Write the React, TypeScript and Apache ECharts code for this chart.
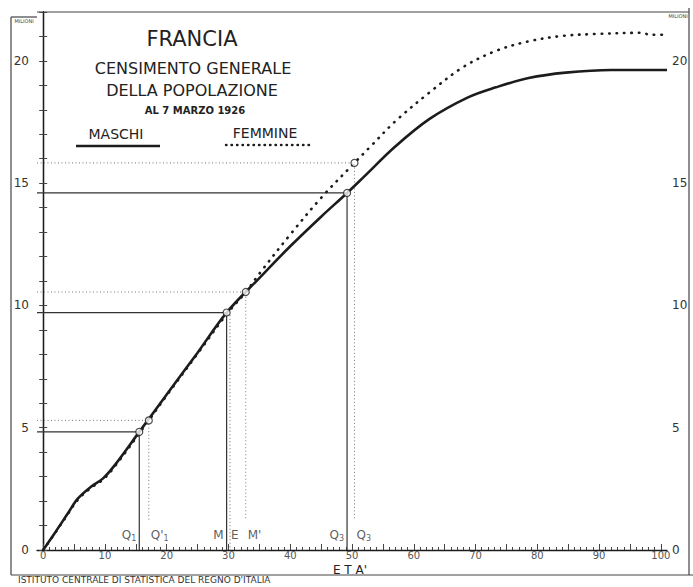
import React, { useEffect, useRef } from "react";
import * as echarts from "echarts";

// Cumulative population (millions) by age, France census 7 March 1926
const MALE_AGE = [0, 2, 4, 5.6, 7.8, 9.7, 11.6, 15.56, 20, 25, 29.7, 35, 40, 45, 49.2, 52, 57, 62.5, 68.7, 73.3, 78.6, 84.6, 92, 101];
const MALE_MIL = [0, 0.74, 1.5, 2.1, 2.6, 2.93, 3.47, 4.83, 6.36, 8.07, 9.71, 11.12, 12.42, 13.63, 14.6, 15.28, 16.5, 17.62, 18.5, 18.92, 19.3, 19.52, 19.63, 19.63];
const FEMALE_AGE = [0, 2, 4, 5.6, 7.8, 9.7, 11.6, 17.1, 20, 25, 29.7, 32.8, 35, 40, 45, 50.4, 53, 57.1, 62.5, 67.9, 73.3, 78.6, 84, 89.4, 97, 98.2, 101];
const FEMALE_MIL = [0, 0.72, 1.47, 2.05, 2.55, 2.88, 3.42, 5.3, 6.32, 8.03, 9.64, 10.55, 11.3, 12.9, 14.4, 15.83, 16.5, 17.55, 18.7, 19.73, 20.41, 20.8, 21.02, 21.1, 21.15, 21.07, 21.07];

// Quartiles (Q1, M, Q3)
const MALE_Q_AGE = [15.56, 29.7, 49.2];
const MALE_Q_MIL = [4.83, 9.71, 14.6];
const FEMALE_Q_AGE = [17.1, 32.8, 50.4];
const FEMALE_Q_MIL = [5.3, 10.55, 15.83];
const E_AGE = 30.25;
const E_TOP = 9.6;

const MALE_Q_LABELS = ["Q{s|1}", "M", "Q{s|3}"];
const FEMALE_Q_LABELS = ["Q'{s|1}", "M'", "Q{s|3}"];
const E_LABEL = "E";

const X_LABELS = [0, 10, 20, 30, 40, 50, 60, 70, 80, 90, 100];
const Y_LABELS = [0, 5, 10, 15, 20];

const X_MIN = -1;
const X_MAX = 101;
const Y_MAX = 22;
const LABEL_Y = 0.6;
const FEMALE_V_END = 1.2;

const FONT = "DejaVu Sans";
const INK = "#1c1c1c";

function zip(a: number[], b: number[]) {
  return a.map((v, i) => [v, b[i]]);
}

export default function App() {
  const ref = useRef<HTMLDivElement>(null);
  useEffect(() => {
    const chart = echarts.init(ref.current!, null, { renderer: "svg" });
    const years: number[] = [];
    for (let i = 0; i <= 100; i++) years.push(i);
    const fives: number[] = [];
    for (let i = 0; i <= 100; i += 5) fives.push(i);

    const maleGuides = MALE_Q_AGE.map((a, i) => ({
      type: "line",
      xAxisIndex: 0,
      yAxisIndex: 0,
      data: [[X_MIN, MALE_Q_MIL[i]], [a, MALE_Q_MIL[i]], [a, 0]],
      showSymbol: false,
      silent: true,
      lineStyle: { color: "#333", width: 1.2 },
      z: 2,
    }));
    const femaleGuides = FEMALE_Q_AGE.map((a, i) => ({
      type: "line",
      xAxisIndex: 0,
      yAxisIndex: 0,
      data: [[X_MIN, FEMALE_Q_MIL[i]], [a, FEMALE_Q_MIL[i]], [a, FEMALE_V_END]],
      showSymbol: false,
      silent: true,
      lineStyle: { color: "#777", width: 1, type: [1, 2.5] },
      z: 2,
    }));

    const rich = { s: { fontSize: 8, fontFamily: FONT, color: "#333", padding: [6, 0, 0, 0] } };
    const labelData: any[] = [];
    MALE_Q_AGE.forEach((a, i) =>
      labelData.push({ value: [a, LABEL_Y], label: { position: "left", distance: 3, formatter: MALE_Q_LABELS[i] } })
    );
    FEMALE_Q_AGE.forEach((a, i) =>
      labelData.push({ value: [a, LABEL_Y], label: { position: "right", distance: 2, formatter: FEMALE_Q_LABELS[i] } })
    );
    labelData.push({ value: [E_AGE, LABEL_Y], label: { position: "right", distance: 1, formatter: E_LABEL } });

    const option: any = {
      animation: false,
      backgroundColor: "#fff",
      textStyle: { fontFamily: FONT },
      grid: { left: 37, right: 26, top: 12, bottom: 37 },
      xAxis: [
        {
          type: "value",
          min: X_MIN,
          max: X_MAX,
          axisLine: { show: true, lineStyle: { color: INK, width: 1.3 } },
          splitLine: { show: false },
          axisTick: { show: true, inside: true, length: 3, customValues: years, lineStyle: { color: "#444", width: 1 } },
          axisLabel: { show: false },
        },
        {
          type: "value",
          min: X_MIN,
          max: X_MAX,
          position: "bottom",
          axisLine: { show: false },
          splitLine: { show: false },
          axisTick: { show: true, inside: true, length: 6, customValues: fives, lineStyle: { color: "#444", width: 1 } },
          axisLabel: { show: true, customValues: X_LABELS, margin: 0, fontSize: 10, color: "#555", fontFamily: FONT },
        },
      ],
      yAxis: [
        {
          type: "value",
          min: 0,
          max: Y_MAX,
          position: "left",
          axisLine: { show: true, lineStyle: { color: INK, width: 1.3 } },
          splitLine: { show: false },
          axisTick: { show: true, inside: true, length: 4, customValues: years.slice(0, 23), lineStyle: { color: "#444" } },
          axisLabel: { show: true, customValues: Y_LABELS, margin: 8, fontSize: 12, color: "#333", fontFamily: FONT },
        },
        {
          type: "value",
          min: 0,
          max: Y_MAX,
          position: "right",
          axisLine: { show: true, lineStyle: { color: INK, width: 1.3 } },
          splitLine: { show: false },
          axisTick: { show: true, inside: true, length: 4, customValues: years.slice(0, 23), lineStyle: { color: "#444" } },
          axisLabel: { show: true, customValues: Y_LABELS, margin: 5, fontSize: 12, color: "#333", fontFamily: FONT },
        },
      ],
      series: [
        ...maleGuides,
        ...femaleGuides,
        {
          type: "line",
          xAxisIndex: 0,
          yAxisIndex: 0,
          data: [[E_AGE, E_TOP], [E_AGE, 0]],
          showSymbol: false,
          silent: true,
          lineStyle: { color: "#666", width: 1, type: [1, 2.5] },
          z: 2,
        },
        {
          name: "FEMMINE",
          type: "line",
          xAxisIndex: 0,
          yAxisIndex: 0,
          data: zip(FEMALE_AGE, FEMALE_MIL),
          smooth: 0.35,
          showSymbol: false,
          lineStyle: { color: INK, width: 2.6, type: [0.5, 7], cap: "round" },
          z: 3,
        },
        {
          name: "MASCHI",
          type: "line",
          xAxisIndex: 0,
          yAxisIndex: 0,
          data: zip(MALE_AGE, MALE_MIL),
          smooth: 0.35,
          showSymbol: false,
          lineStyle: { color: INK, width: 2.6 },
          z: 4,
        },
        {
          type: "scatter",
          xAxisIndex: 0,
          yAxisIndex: 0,
          data: [...zip(MALE_Q_AGE, MALE_Q_MIL), ...zip(FEMALE_Q_AGE, FEMALE_Q_MIL)],
          symbol: "circle",
          symbolSize: 7,
          itemStyle: { color: "#fff", borderColor: "#222", borderWidth: 1.2 },
          z: 6,
        },
        {
          type: "scatter",
          xAxisIndex: 0,
          yAxisIndex: 0,
          data: labelData,
          symbolSize: 0,
          silent: true,
          label: { show: true, fontSize: 12, color: "#333", fontFamily: FONT, rich },
          z: 6,
        },
      ],
      graphic: [
        // frame
        { type: "line", shape: { x1: 11, y1: 17, x2: 11, y2: 575 }, style: { stroke: "#444", lineWidth: 1.2 } },
        { type: "line", shape: { x1: 11, y1: 17, x2: 37, y2: 17 }, style: { stroke: "#444", lineWidth: 1.2 } },
        { type: "line", shape: { x1: 37, y1: 12, x2: 689, y2: 12 }, style: { stroke: "#444", lineWidth: 1.2 } },
        { type: "line", shape: { x1: 689, y1: 8, x2: 689, y2: 575 }, style: { stroke: "#444", lineWidth: 1.2 } },
        { type: "line", shape: { x1: 11, y1: 575, x2: 693, y2: 575 }, style: { stroke: "#444", lineWidth: 1.2 } },
        { type: "text", x: 24, y: 21, style: { text: "MILIONI", fontSize: 5, fontFamily: FONT, fill: "#444", textAlign: "center", textVerticalAlign: "middle" } },
        { type: "text", x: 678, y: 16, style: { text: "MILIONI", fontSize: 5, fontFamily: FONT, fill: "#444", textAlign: "center", textVerticalAlign: "middle" } },
        // title
        { type: "text", x: 192, y: 39, style: { text: "FRANCIA", fontSize: 21, fontFamily: FONT, fill: "#222", textAlign: "center", textVerticalAlign: "middle" } },
        { type: "text", x: 193, y: 68, style: { text: "CENSIMENTO GENERALE", fontSize: 16, fontFamily: FONT, fill: "#222", textAlign: "center", textVerticalAlign: "middle" } },
        { type: "text", x: 192, y: 90, style: { text: "DELLA POPOLAZIONE", fontSize: 16, fontFamily: FONT, fill: "#222", textAlign: "center", textVerticalAlign: "middle" } },
        { type: "text", x: 195, y: 110, style: { text: "AL 7 MARZO 1926", fontSize: 10, fontWeight: "bold", fontFamily: FONT, fill: "#222", textAlign: "center", textVerticalAlign: "middle" } },
        // legend
        { type: "text", x: 116, y: 134, style: { text: "MASCHI", fontSize: 14, fontFamily: FONT, fill: "#222", textAlign: "center", textVerticalAlign: "middle" } },
        { type: "line", shape: { x1: 76, y1: 146, x2: 160, y2: 146 }, style: { stroke: INK, lineWidth: 2.6 } },
        { type: "text", x: 265, y: 133, style: { text: "FEMMINE", fontSize: 14, fontFamily: FONT, fill: "#222", textAlign: "center", textVerticalAlign: "middle" } },
        { type: "line", shape: { x1: 226, y1: 145, x2: 313, y2: 145 }, style: { stroke: INK, lineWidth: 2.4, lineDash: [0.5, 5], lineCap: "round" } },
        // axis title & footer
        { type: "text", x: 350, y: 569.5, style: { text: "E T A'", fontSize: 12, fontFamily: FONT, fill: "#222", textAlign: "center", textVerticalAlign: "middle" } },
        { type: "text", x: 18, y: 580, style: { text: "ISTITUTO CENTRALE DI STATISTICA DEL REGNO D'ITALIA", fontSize: 9, fontFamily: FONT, fill: "#333", textAlign: "left", textVerticalAlign: "middle" } },
      ],
    };
    chart.setOption(option);
    return () => chart.dispose();
  }, []);
  return <div ref={ref} style={{ position: "fixed", left: 0, top: 0, width: 693, height: 587 }} />;
}
